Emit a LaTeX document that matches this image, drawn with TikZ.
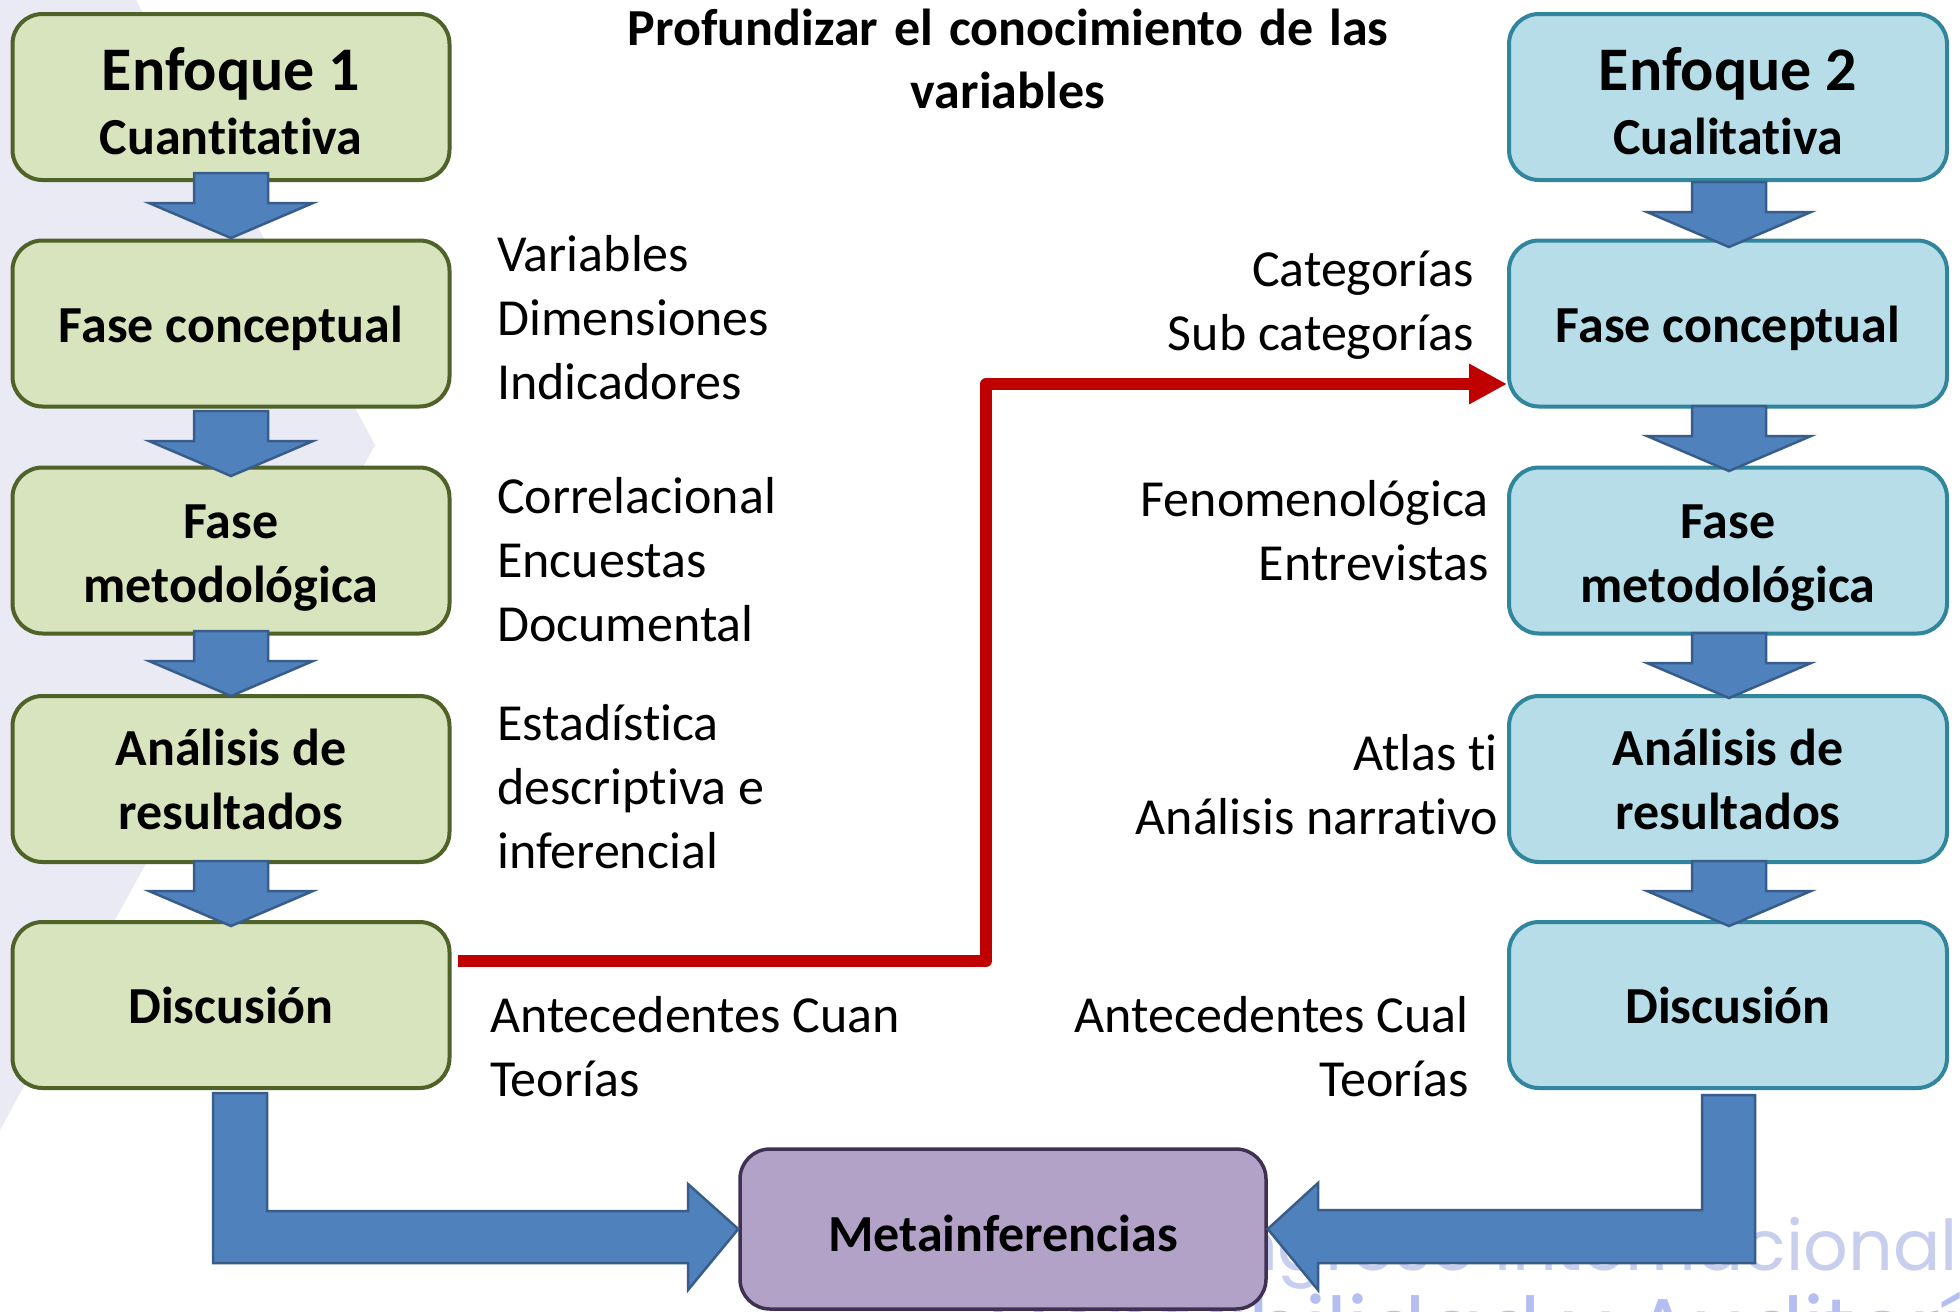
\documentclass[tikz,border=0pt]{standalone}
\usepackage{fontspec}
\setmainfont{Carlito}[Ligatures=NoCommon]
\newfontfamily\wmfont{Poppins}
\usetikzlibrary{arrows.meta,calc}
\definecolor{gfill}{HTML}{D7E4BD}
\definecolor{gline}{HTML}{4F6228}
\definecolor{bfill}{HTML}{B7DEE8}
\definecolor{bline}{HTML}{31859C}
\definecolor{pfill}{HTML}{B3A2C7}
\definecolor{pline}{HTML}{3F3151}
\definecolor{afill}{HTML}{4F81BD}
\definecolor{aline}{HTML}{385D8A}
\definecolor{rline}{HTML}{C00000}
\definecolor{bgshape}{HTML}{EAEAF4}
\definecolor{wmA}{HTML}{C8CEEE}
\definecolor{wmB}{HTML}{B4BEF0}
\newcommand\blkdown[2]{%
  \filldraw[blkarrow] ({#1-37},{#2-65}) -- ({#1+37},{#2-65}) -- ({#1+37},{#2-35})
    -- ({#1+82},{#2-35}) -- (#1,#2) -- ({#1-82},{#2-35}) -- ({#1-37},{#2-35}) -- cycle;}
\newcommand\tstrut[1]{\rule{0pt}{#1}}
\newcommand\widespace{\spaceskip=16pt\relax}
\begin{document}
\begin{tikzpicture}[x=1pt,y=-1pt,
  box/.style={rounded corners=30pt, line width=4pt, minimum width=437pt,
    minimum height=166pt, inner sep=0pt, align=center,
    font=\fontsize{52}{64}\selectfont\bfseries},
  gbox/.style={box, draw=gline, fill=gfill},
  bbox/.style={box, draw=bline, fill=bfill, minimum width=438pt},
  pbox/.style={box, draw=pline, fill=pfill, line width=3.5pt, minimum width=526pt, minimum height=160pt},
  blkarrow/.style={fill=afill, draw=aline, line width=2.5pt, line join=miter},
  txt/.style={inner sep=0pt, font=\fontsize{52}{64}\selectfont},
  ltxt/.style={txt, align=left, anchor=west},
  rtxt/.style={txt, align=right, anchor=east},
  ttl/.style={inner sep=0pt, align=center, font={\fontsize{52}{63}\selectfont\bfseries\widespace}},
  redconn/.style={draw=rline, line width=12pt, line join=round,
    -{Triangle[length=38pt,width=38pt]}}
]
\useasboundingbox (0,0) rectangle (1960,1312);
\fill[white] (0,0) rectangle (1960,1312);
% faint background shapes
\fill[bgshape] (0,0) -- (136,0) -- (375,445) -- (0,1130) -- cycle;
\begin{scope}
  \clip (0,0) rectangle (1960,1312);
  \node[inner sep=0pt, anchor=base east, text=wmA, font=\wmfont\fontsize{70}{80}\selectfont] (wm1) at (1958,1270) {Congreso Internacional};
  \node[inner sep=0pt, anchor=base east, text=wmB, font=\wmfont\fontsize{85}{90}\selectfont] (wm2) at (2020,1358) {Contabilidad y Auditoría};
\end{scope}

% title
\node[ttl] (title) at (1008,59) {Profundizar el conocimiento de las\\variables};

% left column
\node[gbox] (l1) at (231,97) {{\fontsize{62}{69}\selectfont\tstrut{51pt}Enfoque 1}\\{\fontsize{52}{64}\selectfont Cuantitativa}};
\node[gbox] (l2) at (231,323.5) {\tstrut{47pt}Fase conceptual};
\node[gbox] (l3) at (231,550.5) {\tstrut{49pt}Fase\\metodológica};
\node[gbox] (l4) at (231,779) {Análisis de\\resultados};
\node[gbox] (l5) at (231,1005) {Discusión};

% right column
\node[bbox] (r1) at (1728,97) {{\fontsize{62}{69}\selectfont\tstrut{51pt}Enfoque 2}\\{\fontsize{52}{64}\selectfont Cualitativa}};
\node[bbox] (r2) at (1728,323.5) {\tstrut{47pt}Fase conceptual};
\node[bbox] (r3) at (1728,550.5) {\tstrut{49pt}Fase\\metodológica};
\node[bbox] (r4) at (1728,779) {Análisis de\\resultados};
\node[bbox] (r5) at (1728,1005) {Discusión};

% bottom box
\node[pbox] (meta) at (1003,1229) {\tstrut{45pt}Metainferencias};

% down block arrows
\blkdown{231}{238}
\blkdown{231}{476}
\blkdown{231}{696}
\blkdown{231}{926}
\blkdown{1729}{247}
\blkdown{1729}{471}
\blkdown{1729}{698}
\blkdown{1729}{926}

% L-shaped block arrows to Metainferencias
\filldraw[blkarrow] (213,1093) -- (267,1093) -- (267,1211) -- (688,1211) -- (688,1184)
  -- (meta.west) -- (688,1290) -- (688,1263) -- (213,1263) -- cycle;
\filldraw[blkarrow] (1755,1095) -- (1702,1095) -- (1702,1210) -- (1318,1210) -- (1318,1183)
  -- (meta.east) -- (1318,1290) -- (1318,1263) -- (1755,1263) -- cycle;

% red connector
\coordinate (bend) at (986,384);
\draw[redconn] ($(l5.east)+(6,-44)$) -| (bend) -- (r2.west |- bend);

% side texts
\node[ltxt] (t1) at (497,318) {Variables\\Dimensiones\\Indicadores};
\node[ltxt] (t2) at (497,560) {Correlacional\\Encuestas\\Documental};
\node[ltxt] (t3) at (497,787) {Estadística\\descriptiva e\\inferencial};
\node[ltxt] (t4) at (490,1047) {Antecedentes Cuan\\Teorías};
\node[rtxt] (u1) at (1474,305) {Categorías\\Sub categorías};
\node[rtxt] (u2) at (1489,531) {Fenomenológica\\Entrevistas};
\node[rtxt] (u3) at (1498,785) {Atlas ti\\Análisis narrativo};
\node[rtxt] (u4) at (1469,1047) {Antecedentes Cual\\Teorías};
\end{tikzpicture}
\end{document}
